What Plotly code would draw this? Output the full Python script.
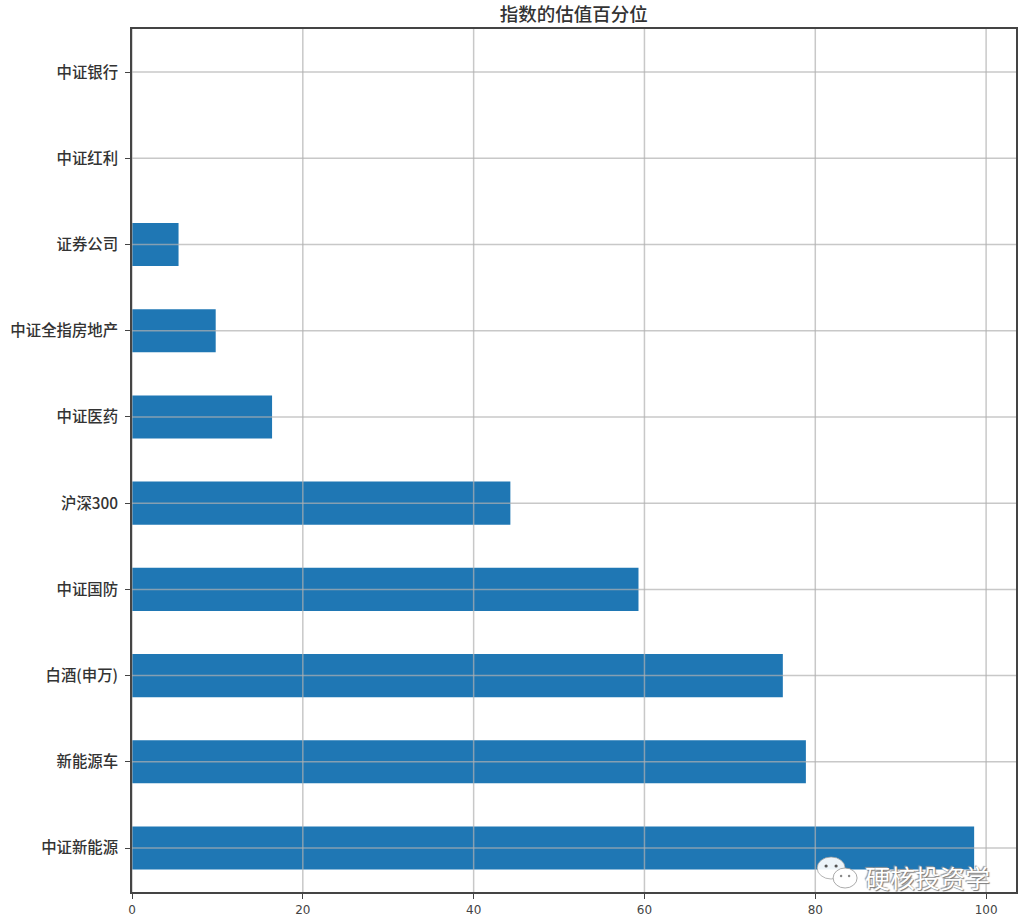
import plotly.graph_objects as go

categories = ["中证新能源", "新能源车", "白酒(申万)", "中证国防", "沪深300",
              "中证医药", "中证全指房地产", "证券公司", "中证红利", "中证银行"]
values = [98.6, 78.9, 76.2, 59.3, 44.3, 16.4, 9.8, 5.45, 0, 0]
x_ticks = [0, 20, 40, 60, 80, 100]
title = "指数的估值百分位"
watermark = "硬核投资学"

W, H = 1024, 923
L, R, T, B = 131.5, 1016, 29, 892
CJK = "Noto Sans CJK SC"
GRID = "rgba(176,176,176,0.7)"
AXIS = "#444444"

fig = go.Figure(go.Bar(
    y=categories, x=values, orientation="h", width=0.5,
    marker=dict(color="#1f77b4", line=dict(width=0)),
    hoverinfo="x+y",
))

# matplotlib draws its grid above the bars, so the grid is laid over them here
shapes = []
for t in x_ticks:
    shapes.append(dict(type="line", layer="above", xref="x", yref="paper",
                       x0=t, x1=t, y0=0, y1=1, line=dict(color=GRID, width=1.5)))
for c in categories:
    shapes.append(dict(type="line", layer="above", xref="paper", yref="y",
                       x0=0, x1=1, y0=c, y1=c, line=dict(color=GRID, width=1.5)))

# WeChat-style watermark icon (two bubbles), given in page pixels
def px(x): return (x - L) / (R - L)
def py(y): return (B - y) / (B - T)
def ell(cx, cy, rx, ry, fill, line=None):
    return dict(type="circle", layer="above", xref="paper", yref="paper",
                x0=px(cx - rx), x1=px(cx + rx), y0=py(cy + ry), y1=py(cy - ry),
                fillcolor=fill, line=dict(color=line or fill, width=1 if line else 0))
shapes += [
    ell(831, 868, 14, 11, "rgba(255,255,255,0.92)", "rgba(150,150,150,0.7)"),
    ell(845, 878, 12, 10, "rgba(255,255,255,0.97)", "rgba(150,150,150,0.8)"),
    ell(826, 866, 1.6, 1.6, "#555555"),
    ell(836, 866, 1.6, 1.6, "#555555"),
    ell(841, 876, 1.2, 1.2, "#888888"),
    ell(849, 876, 1.2, 1.2, "#888888"),
]

fig.update_layout(
    width=W, height=H,
    autosize=False,
    paper_bgcolor="white", plot_bgcolor="white",
    margin=dict(l=L, r=W - R, t=T, b=H - B, pad=0),
    font=dict(family=CJK, color="#333333", size=14),
    showlegend=False,
    shapes=shapes,
    title=dict(text=title, x=(L + R) / 2 / W, xanchor="center",
               y=1 - 15 / H, yanchor="middle",
               font=dict(family=CJK, size=18.5, color="#333333", weight=500)),
    xaxis=dict(range=[0, 103.5], tickvals=x_ticks, ticks="outside", ticklen=5,
               tickwidth=1.2, tickcolor=AXIS, showgrid=False, zeroline=False,
               showline=True, linecolor=AXIS, linewidth=1.6, mirror=True,
               tickfont=dict(family="DejaVu Sans", size=12, color="#444444"),
               ticklabelstandoff=1, automargin=False,
               layer="above traces"),
    yaxis=dict(type="category", categoryorder="array", categoryarray=categories,
               range=[-0.51, 9.5], ticks="outside", ticklen=5, tickwidth=1.2,
               tickcolor=AXIS, showgrid=False, zeroline=False,
               showline=True, linecolor=AXIS, linewidth=1.6, mirror=True,
               tickfont=dict(family=CJK, size=15.4, color="#333333", weight=500),
               ticklabelstandoff=4,
               automargin=False, layer="above traces"),
    annotations=[dict(
        text=watermark, xref="paper", yref="paper",
        x=px(927), y=py(877), xanchor="center", yanchor="middle",
        showarrow=False,
        font=dict(family=CJK, size=25, color="white",
                  shadow="1px 1px 1px #777777, -1px -1px 1px #999999"),
    )],
)

# remove the page's default body margin so the 1024x923 figure fills the window
fig.write_html("out.html", config=dict(displayModeBar=False),
               post_script="document.body.style.margin='0';document.body.style.overflow='hidden';")
